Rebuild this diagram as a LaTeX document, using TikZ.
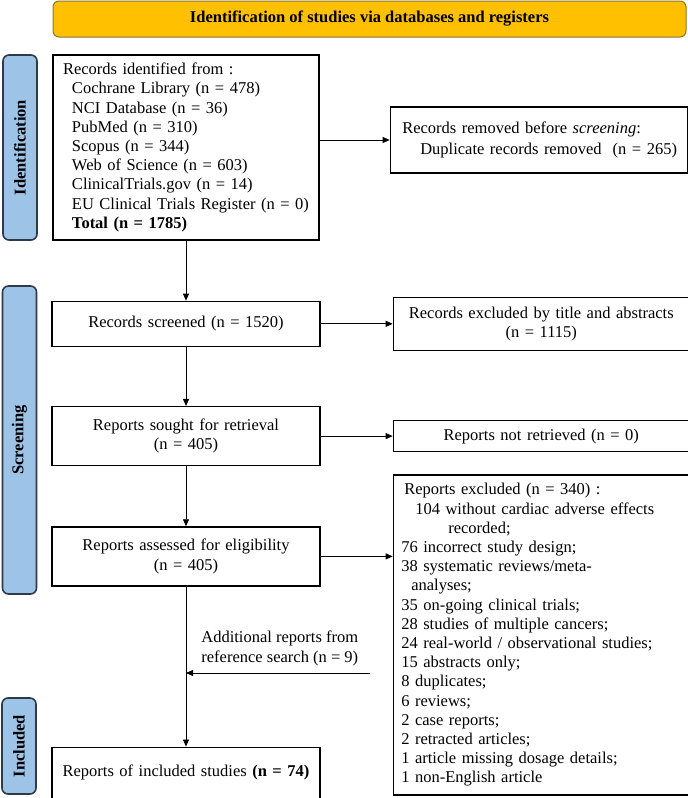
\documentclass[tikz,border=0pt]{standalone}
\usepackage{fontspec}
\setmainfont{Liberation Serif}
\usetikzlibrary{positioning,arrows.meta}

\definecolor{bannergold}{HTML}{FFC000}
\definecolor{bannerline}{HTML}{8C7434}
\definecolor{stageblue}{HTML}{9DC3E6}
\definecolor{stageline}{HTML}{2F3A48}

\begin{document}
\begin{tikzpicture}[x=1pt, y=1pt, node distance=60pt, thick]

    % Define styles
    \tikzstyle{rec} = [draw, rectangle, line width=1.3pt, inner ysep=0pt, font=\fontsize{16.5}{19.2}\selectfont]
    \tikzstyle{stage} = [draw=stageline, fill=stageblue, line width=1.6pt, rounded corners=6pt, rotate=90, minimum height=34pt, inner sep=0pt, font=\fontsize{16.5}{19.2}\selectfont\bfseries]
    \tikzstyle{arr} = [-{Triangle[length=7pt, width=6pt]}, line width=0.8pt]

    \useasboundingbox (0,0) rectangle (688,-798);

    % BANNER
    \node (banner) [draw=bannerline, fill=bannergold, line width=1pt, rounded corners=6pt, minimum width=633pt, minimum height=36pt, font=\fontsize{16.5}{19.2}\selectfont\bfseries] at (369.5,-19) {Identification of studies via databases and registers};

    % STAGES
    \node (id_stage) [stage, minimum width=185pt] at (20,-147.5) {Identification};
    \node (sc_stage) [stage, minimum width=308pt] at (19.5,-440) {Screening};
    \node (in_stage) [stage, minimum width=96pt] at (19,-746) {Included};

    % MAIN COLUMN
    \node (id_records) [rec, text width=246pt, inner xsep=10pt, minimum height=185pt, align=left] at (186,-147.5) {Records identified from :\\
        \hspace*{9pt}Cochrane Library (n = 478)\\
        \hspace*{9pt}NCI Database (n = 36)\\
        \hspace*{9pt}PubMed (n = 310)\\
        \hspace*{9pt}Scopus (n = 344)\\
        \hspace*{9pt}Web of Science (n = 603)\\
        \hspace*{9pt}ClinicalTrials.gov (n = 14)\\
        \hspace*{9pt}EU Clinical Trials Register (n = 0)\\
        \hspace*{9pt}\textbf{Total (n = 1785)}};
    \node (sc_screened) [rec, text width=258pt, inner xsep=5pt, minimum height=45pt, align=center, below=60pt of id_records] {Records screened (n = 1520)};
    \node (sc_sought) [rec, text width=258pt, inner xsep=5pt, minimum height=59pt, align=center, below=59pt of sc_screened] {Reports sought for retrieval\\(n = 405)};
    \node (sc_assessed) [rec, text width=258pt, inner xsep=5pt, minimum height=59pt, align=center, below=60pt of sc_sought] {Reports assessed for eligibility\\(n = 405)};
    \node (in_included) [rec, text width=258pt, inner xsep=5pt, minimum height=51pt, align=center, below=160pt of sc_assessed] {Reports of included studies \textbf{(n = 74)}};

    % SIDE COLUMN
    \node (id_removed) [rec, text width=277pt, inner xsep=10pt, minimum height=66pt, align=left, right=70pt of id_records, yshift=7.5pt] {\hspace*{2pt}Records removed before \textit{screening}:\\[2pt]
        \hspace*{20pt}Duplicate records removed\ \ (n = 265)};
    \node (sc_excluded) [rec, text width=286pt, inner xsep=5pt, minimum height=53pt, align=center, right=72pt of sc_screened] {Records excluded by title and abstracts\\(n = 1115)};
    \node (sc_notretrieved) [rec, text width=286pt, inner xsep=5pt, minimum height=31pt, align=center, right=72pt of sc_sought] {Reports not retrieved (n = 0)};
    \node (sc_reportsexcl) [rec, text width=280pt, inner xsep=8pt, minimum height=320pt, align=left, below=22pt of sc_notretrieved] {\hspace*{3pt}Reports excluded (n = 340) :\\
        \hspace*{14pt}104 without cardiac adverse effects\\
        \hspace*{47pt}recorded;\\
        76 incorrect study design;\\
        38 systematic reviews/meta-\\
        \hspace*{10pt}analyses;\\
        35 on-going clinical trials;\\
        28 studies of multiple cancers;\\
        24 real-world / observational studies;\\
        15 abstracts only;\\
        8 duplicates;\\
        6 reviews;\\
        2 case reports;\\
        2 retracted articles;\\
        1 article missing dosage details;\\
        1 non-English article};

    % ADDITIONAL REPORTS
    \node (add_label) [anchor=west, align=left, inner sep=0pt, font=\fontsize{16.5}{20}\selectfont] at (201,-648) {Additional reports from\\reference search (n = 9)};
    \coordinate (add_start) at (370,-673);

    % CONNECTIONS
    \draw[arr] (id_records) -- (sc_screened);
    \draw[arr] (id_records.east |- id_removed.west) -- (id_removed.west);
    \draw[arr] (sc_screened) -- (sc_excluded);
    \draw[arr] (sc_screened) -- (sc_sought);
    \draw[arr] (sc_sought) -- (sc_notretrieved);
    \draw[arr] (sc_sought) -- (sc_assessed);
    \draw[arr] (sc_assessed.east) -- (sc_assessed.east -| sc_reportsexcl.west);
    \draw[arr] (sc_assessed) -- (in_included);
    \draw[arr] (add_start) -- (add_start -| sc_assessed.south);

\end{tikzpicture}
\end{document}
